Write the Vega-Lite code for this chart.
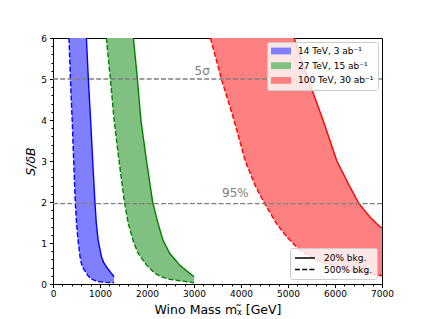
{
  "$schema": "https://vega.github.io/schema/vega-lite/v6.json",
  "width": 329,
  "height": 246,
  "autosize": {"type": "none"},
  "padding": {"left": 53, "top": 38, "right": 43, "bottom": 35},
  "background": "white",
  "config": {
    "font": "DejaVu Sans",
    "view": {"stroke": "black", "strokeWidth": 1},
    "axis": {
      "labelFont": "DejaVu Sans", "labelFontSize": 9, "labelColor": "black",
      "tickColor": "black", "domain": false, "grid": false,
      "titleFont": "DejaVu Sans", "titleFontWeight": "normal", "titleColor": "black",
      "labelFlush": false, "labelOverlap": false
    },
    "legend": {
      "labelFont": "DejaVu Sans", "labelFontSize": 9, "labelColor": "black",
      "fillColor": "rgba(255,255,255,0.8)", "strokeColor": "#cccccc",
      "cornerRadius": 2, "padding": 4, "zindex": 1
    }
  },
  "datasets": {
    "bands": [
      {"band": "14 TeV, 3 ab\u207b\u00b9", "s": 6, "lo": 340, "hi": 710},
      {"band": "14 TeV, 3 ab\u207b\u00b9", "s": 5, "lo": 370, "hi": 752},
      {"band": "14 TeV, 3 ab\u207b\u00b9", "s": 4, "lo": 408, "hi": 800},
      {"band": "14 TeV, 3 ab\u207b\u00b9", "s": 3, "lo": 440, "hi": 845},
      {"band": "14 TeV, 3 ab\u207b\u00b9", "s": 2, "lo": 474, "hi": 892},
      {"band": "14 TeV, 3 ab\u207b\u00b9", "s": 1.5, "lo": 500, "hi": 920},
      {"band": "14 TeV, 3 ab\u207b\u00b9", "s": 1.07, "lo": 532, "hi": 960},
      {"band": "14 TeV, 3 ab\u207b\u00b9", "s": 0.67, "lo": 575, "hi": 1030},
      {"band": "14 TeV, 3 ab\u207b\u00b9", "s": 0.52, "lo": 600, "hi": 1080},
      {"band": "14 TeV, 3 ab\u207b\u00b9", "s": 0.42, "lo": 625, "hi": 1136},
      {"band": "14 TeV, 3 ab\u207b\u00b9", "s": 0.26, "lo": 710, "hi": 1242},
      {"band": "14 TeV, 3 ab\u207b\u00b9", "s": 0.18, "lo": 760, "hi": 1300},
      {"band": "14 TeV, 3 ab\u207b\u00b9", "s": 0.12, "lo": 816, "hi": 1300},
      {"band": "14 TeV, 3 ab\u207b\u00b9", "s": 0.06, "lo": 958, "hi": 1300},
      {"band": "14 TeV, 3 ab\u207b\u00b9", "s": 0.04, "lo": 1100, "hi": 1300},
      {"band": "14 TeV, 3 ab\u207b\u00b9", "s": 0.03, "lo": 1300, "hi": 1300},
      {"band": "27 TeV, 15 ab\u207b\u00b9", "s": 6, "lo": 1135, "hi": 1710},
      {"band": "27 TeV, 15 ab\u207b\u00b9", "s": 5, "lo": 1221, "hi": 1796},
      {"band": "27 TeV, 15 ab\u207b\u00b9", "s": 4, "lo": 1300, "hi": 1870},
      {"band": "27 TeV, 15 ab\u207b\u00b9", "s": 3, "lo": 1405, "hi": 1990},
      {"band": "27 TeV, 15 ab\u207b\u00b9", "s": 2, "lo": 1520, "hi": 2120},
      {"band": "27 TeV, 15 ab\u207b\u00b9", "s": 1.48, "lo": 1600, "hi": 2234},
      {"band": "27 TeV, 15 ab\u207b\u00b9", "s": 1.07, "lo": 1700, "hi": 2340},
      {"band": "27 TeV, 15 ab\u207b\u00b9", "s": 0.75, "lo": 1810, "hi": 2482},
      {"band": "27 TeV, 15 ab\u207b\u00b9", "s": 0.46, "lo": 1990, "hi": 2696},
      {"band": "27 TeV, 15 ab\u207b\u00b9", "s": 0.26, "lo": 2170, "hi": 2908},
      {"band": "27 TeV, 15 ab\u207b\u00b9", "s": 0.18, "lo": 2300, "hi": 3000},
      {"band": "27 TeV, 15 ab\u207b\u00b9", "s": 0.12, "lo": 2450, "hi": 3000},
      {"band": "27 TeV, 15 ab\u207b\u00b9", "s": 0.08, "lo": 2696, "hi": 3000},
      {"band": "27 TeV, 15 ab\u207b\u00b9", "s": 0.03, "lo": 3000, "hi": 3000},
      {"band": "100 TeV, 30 ab\u207b\u00b9", "s": 6, "lo": 3349, "hi": 5128},
      {"band": "100 TeV, 30 ab\u207b\u00b9", "s": 5, "lo": 3583, "hi": 5426},
      {"band": "100 TeV, 30 ab\u207b\u00b9", "s": 4, "lo": 3850, "hi": 5745},
      {"band": "100 TeV, 30 ab\u207b\u00b9", "s": 3, "lo": 4090, "hi": 6040},
      {"band": "100 TeV, 30 ab\u207b\u00b9", "s": 2.38, "lo": 4310, "hi": 6313},
      {"band": "100 TeV, 30 ab\u207b\u00b9", "s": 1.96, "lo": 4504, "hi": 6511},
      {"band": "100 TeV, 30 ab\u207b\u00b9", "s": 1.64, "lo": 4670, "hi": 6738},
      {"band": "100 TeV, 30 ab\u207b\u00b9", "s": 1.44, "lo": 4780, "hi": 6915},
      {"band": "100 TeV, 30 ab\u207b\u00b9", "s": 1.36, "lo": 4830, "hi": 7000},
      {"band": "100 TeV, 30 ab\u207b\u00b9", "s": 1.16, "lo": 4965, "hi": 7000},
      {"band": "100 TeV, 30 ab\u207b\u00b9", "s": 0.83, "lo": 5248, "hi": 7000},
      {"band": "100 TeV, 30 ab\u207b\u00b9", "s": 0.59, "lo": 5603, "hi": 7000},
      {"band": "100 TeV, 30 ab\u207b\u00b9", "s": 0.42, "lo": 6000, "hi": 7000},
      {"band": "100 TeV, 30 ab\u207b\u00b9", "s": 0.29, "lo": 6500, "hi": 7000},
      {"band": "100 TeV, 30 ab\u207b\u00b9", "s": 0.2, "lo": 7000, "hi": 7000}
    ],
    "curves": [
      {"band": "14", "bkg": "20% bkg.", "m": 710, "s": 6},
      {"band": "14", "bkg": "20% bkg.", "m": 752, "s": 5},
      {"band": "14", "bkg": "20% bkg.", "m": 800, "s": 4},
      {"band": "14", "bkg": "20% bkg.", "m": 845, "s": 3},
      {"band": "14", "bkg": "20% bkg.", "m": 892, "s": 2},
      {"band": "14", "bkg": "20% bkg.", "m": 920, "s": 1.5},
      {"band": "14", "bkg": "20% bkg.", "m": 960, "s": 1.07},
      {"band": "14", "bkg": "20% bkg.", "m": 1030, "s": 0.67},
      {"band": "14", "bkg": "20% bkg.", "m": 1080, "s": 0.52},
      {"band": "14", "bkg": "20% bkg.", "m": 1136, "s": 0.42},
      {"band": "14", "bkg": "20% bkg.", "m": 1242, "s": 0.26},
      {"band": "14", "bkg": "20% bkg.", "m": 1300, "s": 0.18},
      {"band": "14", "bkg": "500% bkg.", "m": 340, "s": 6},
      {"band": "14", "bkg": "500% bkg.", "m": 370, "s": 5},
      {"band": "14", "bkg": "500% bkg.", "m": 408, "s": 4},
      {"band": "14", "bkg": "500% bkg.", "m": 440, "s": 3},
      {"band": "14", "bkg": "500% bkg.", "m": 474, "s": 2},
      {"band": "14", "bkg": "500% bkg.", "m": 500, "s": 1.5},
      {"band": "14", "bkg": "500% bkg.", "m": 532, "s": 1.07},
      {"band": "14", "bkg": "500% bkg.", "m": 575, "s": 0.67},
      {"band": "14", "bkg": "500% bkg.", "m": 600, "s": 0.52},
      {"band": "14", "bkg": "500% bkg.", "m": 625, "s": 0.42},
      {"band": "14", "bkg": "500% bkg.", "m": 710, "s": 0.26},
      {"band": "14", "bkg": "500% bkg.", "m": 760, "s": 0.18},
      {"band": "14", "bkg": "500% bkg.", "m": 816, "s": 0.12},
      {"band": "14", "bkg": "500% bkg.", "m": 958, "s": 0.06},
      {"band": "14", "bkg": "500% bkg.", "m": 1100, "s": 0.04},
      {"band": "14", "bkg": "500% bkg.", "m": 1300, "s": 0.03},
      {"band": "27", "bkg": "20% bkg.", "m": 1710, "s": 6},
      {"band": "27", "bkg": "20% bkg.", "m": 1796, "s": 5},
      {"band": "27", "bkg": "20% bkg.", "m": 1870, "s": 4},
      {"band": "27", "bkg": "20% bkg.", "m": 1990, "s": 3},
      {"band": "27", "bkg": "20% bkg.", "m": 2120, "s": 2},
      {"band": "27", "bkg": "20% bkg.", "m": 2234, "s": 1.48},
      {"band": "27", "bkg": "20% bkg.", "m": 2340, "s": 1.07},
      {"band": "27", "bkg": "20% bkg.", "m": 2482, "s": 0.75},
      {"band": "27", "bkg": "20% bkg.", "m": 2696, "s": 0.46},
      {"band": "27", "bkg": "20% bkg.", "m": 2908, "s": 0.26},
      {"band": "27", "bkg": "20% bkg.", "m": 3000, "s": 0.18},
      {"band": "27", "bkg": "500% bkg.", "m": 1135, "s": 6},
      {"band": "27", "bkg": "500% bkg.", "m": 1221, "s": 5},
      {"band": "27", "bkg": "500% bkg.", "m": 1300, "s": 4},
      {"band": "27", "bkg": "500% bkg.", "m": 1405, "s": 3},
      {"band": "27", "bkg": "500% bkg.", "m": 1520, "s": 2},
      {"band": "27", "bkg": "500% bkg.", "m": 1600, "s": 1.48},
      {"band": "27", "bkg": "500% bkg.", "m": 1700, "s": 1.07},
      {"band": "27", "bkg": "500% bkg.", "m": 1810, "s": 0.75},
      {"band": "27", "bkg": "500% bkg.", "m": 1990, "s": 0.46},
      {"band": "27", "bkg": "500% bkg.", "m": 2170, "s": 0.26},
      {"band": "27", "bkg": "500% bkg.", "m": 2300, "s": 0.18},
      {"band": "27", "bkg": "500% bkg.", "m": 2450, "s": 0.12},
      {"band": "27", "bkg": "500% bkg.", "m": 2696, "s": 0.08},
      {"band": "27", "bkg": "500% bkg.", "m": 3000, "s": 0.03},
      {"band": "100", "bkg": "20% bkg.", "m": 5128, "s": 6},
      {"band": "100", "bkg": "20% bkg.", "m": 5426, "s": 5},
      {"band": "100", "bkg": "20% bkg.", "m": 5745, "s": 4},
      {"band": "100", "bkg": "20% bkg.", "m": 6040, "s": 3},
      {"band": "100", "bkg": "20% bkg.", "m": 6313, "s": 2.38},
      {"band": "100", "bkg": "20% bkg.", "m": 6511, "s": 1.96},
      {"band": "100", "bkg": "20% bkg.", "m": 6738, "s": 1.64},
      {"band": "100", "bkg": "20% bkg.", "m": 6915, "s": 1.44},
      {"band": "100", "bkg": "20% bkg.", "m": 7000, "s": 1.36},
      {"band": "100", "bkg": "500% bkg.", "m": 3349, "s": 6},
      {"band": "100", "bkg": "500% bkg.", "m": 3583, "s": 5},
      {"band": "100", "bkg": "500% bkg.", "m": 3850, "s": 4},
      {"band": "100", "bkg": "500% bkg.", "m": 4090, "s": 3},
      {"band": "100", "bkg": "500% bkg.", "m": 4310, "s": 2.38},
      {"band": "100", "bkg": "500% bkg.", "m": 4504, "s": 1.96},
      {"band": "100", "bkg": "500% bkg.", "m": 4752, "s": 1.48},
      {"band": "100", "bkg": "500% bkg.", "m": 4965, "s": 1.16},
      {"band": "100", "bkg": "500% bkg.", "m": 5248, "s": 0.83},
      {"band": "100", "bkg": "500% bkg.", "m": 5603, "s": 0.59},
      {"band": "100", "bkg": "500% bkg.", "m": 6000, "s": 0.42},
      {"band": "100", "bkg": "500% bkg.", "m": 6500, "s": 0.29},
      {"band": "100", "bkg": "500% bkg.", "m": 7000, "s": 0.2}
    ],
    "refs": [{"s": 5}, {"s": 1.96}]
  },
  "layer": [
    {
      "data": {"name": "bands"},
      "mark": {"type": "area", "orient": "horizontal", "clip": true},
      "encoding": {
        "y": {
          "field": "s", "type": "quantitative",
          "scale": {"domain": [0, 6], "nice": false, "zero": false},
          "axis": {
            "orient": "left", "values": [0, 1, 2, 3, 4, 5, 6], "tickSize": 3.5, "labelPadding": 3,
            "title": "S/\u03b4B", "titleFontSize": 12.5, "titleFontStyle": "italic",
            "titleX": -22.5, "titleY": 123, "titleAngle": -90, "titleBaseline": "middle", "titleAlign": "center"
          }
        },
        "x": {
          "field": "lo", "type": "quantitative",
          "scale": {"domain": [0, 7000], "nice": false, "zero": false},
          "axis": {
            "orient": "bottom", "values": [0, 1000, 2000, 3000, 4000, 5000, 6000, 7000], "format": "d",
            "tickSize": 3.5, "labelPadding": 2,
            "title": "Wino Mass m\u1d6a\u0303 [GeV]", "titleFontSize": 12.5,
            "titleX": 164.5, "titleY": 29, "titleBaseline": "alphabetic", "titleAlign": "center"
          }
        },
        "x2": {"field": "hi"},
        "fill": {
          "field": "band", "type": "nominal",
          "scale": {
            "domain": ["14 TeV, 3 ab\u207b\u00b9", "27 TeV, 15 ab\u207b\u00b9", "100 TeV, 30 ab\u207b\u00b9"],
            "range": ["#8080ff", "#80c080", "#ff8080"]
          },
          "legend": {
            "title": null, "orient": "top-right", "offset": 4,
            "symbolType": "M-1,-0.68H3V0.68H-1Z", "symbolSize": 100, "symbolStrokeWidth": 0,
            "rowPadding": 4.7, "labelOffset": 17, "padding": 4
          }
        }
      }
    },
    {
      "data": {"name": "curves"},
      "mark": {"type": "line", "clip": true, "strokeWidth": 1.4},
      "encoding": {
        "x": {
          "field": "m", "type": "quantitative",
          "axis": {"orient": "bottom", "values": [0,200,400,600,800,1000,1200,1400,1600,1800,2000,2200,2400,2600,2800,3000,3200,3400,3600,3800,4000,4200,4400,4600,4800,5000,5200,5400,5600,5800,6000,6200,6400,6600,6800,7000], "labels": false, "tickSize": 2, "title": null}
        },
        "y": {
          "field": "s", "type": "quantitative",
          "axis": {"orient": "left", "values": [0,0.2,0.4,0.6,0.8,1,1.2,1.4,1.6,1.8,2,2.2,2.4,2.6,2.8,3,3.2,3.4,3.6,3.8,4,4.2,4.4,4.6,4.8,5,5.2,5.4,5.6,5.8,6], "labels": false, "tickSize": 2, "title": null}
        },
        "stroke": {
          "field": "band", "type": "nominal",
          "scale": {"domain": ["14", "27", "100"], "range": ["#0000ff", "#008000", "#ff0000"]},
          "legend": null
        },
        "strokeDash": {
          "field": "bkg", "type": "nominal",
          "scale": {"domain": ["20% bkg.", "500% bkg."], "range": [[1, 0], [5, 2.2]]},
          "legend": {
            "title": null, "orient": "bottom-right", "offset": 5,
            "symbolType": "M-1,0H3", "symbolSize": 100, "symbolStrokeColor": "black", "symbolStrokeWidth": 1.4,
            "symbolFillColor": "transparent",
            "rowPadding": 0.5, "labelOffset": 18, "padding": 4
          }
        }
      }
    },
    {
      "data": {"name": "refs"},
      "mark": {"type": "rule", "color": "#808080", "strokeDash": [5, 2.2], "strokeWidth": 1.4},
      "encoding": {"y": {"field": "s", "type": "quantitative", "axis": null}}
    },
    {
      "data": {"values": [{}]},
      "mark": {"type": "text", "color": "#808080", "fontSize": 12, "baseline": "alphabetic", "align": "center", "font": "DejaVu Sans"},
      "encoding": {
        "x": {"datum": 3174, "type": "quantitative", "axis": null},
        "y": {"datum": 5.1, "type": "quantitative", "axis": null},
        "text": {"value": "5\u03c3"}
      }
    },
    {
      "data": {"values": [{}]},
      "mark": {"type": "text", "color": "#808080", "fontSize": 12, "baseline": "alphabetic", "align": "center", "font": "DejaVu Sans"},
      "encoding": {
        "x": {"datum": 3880, "type": "quantitative", "axis": null},
        "y": {"datum": 2.11, "type": "quantitative", "axis": null},
        "text": {"value": "95%"}
      }
    }
  ],
  "resolve": {"axis": {"x": "independent", "y": "independent"}}
}
